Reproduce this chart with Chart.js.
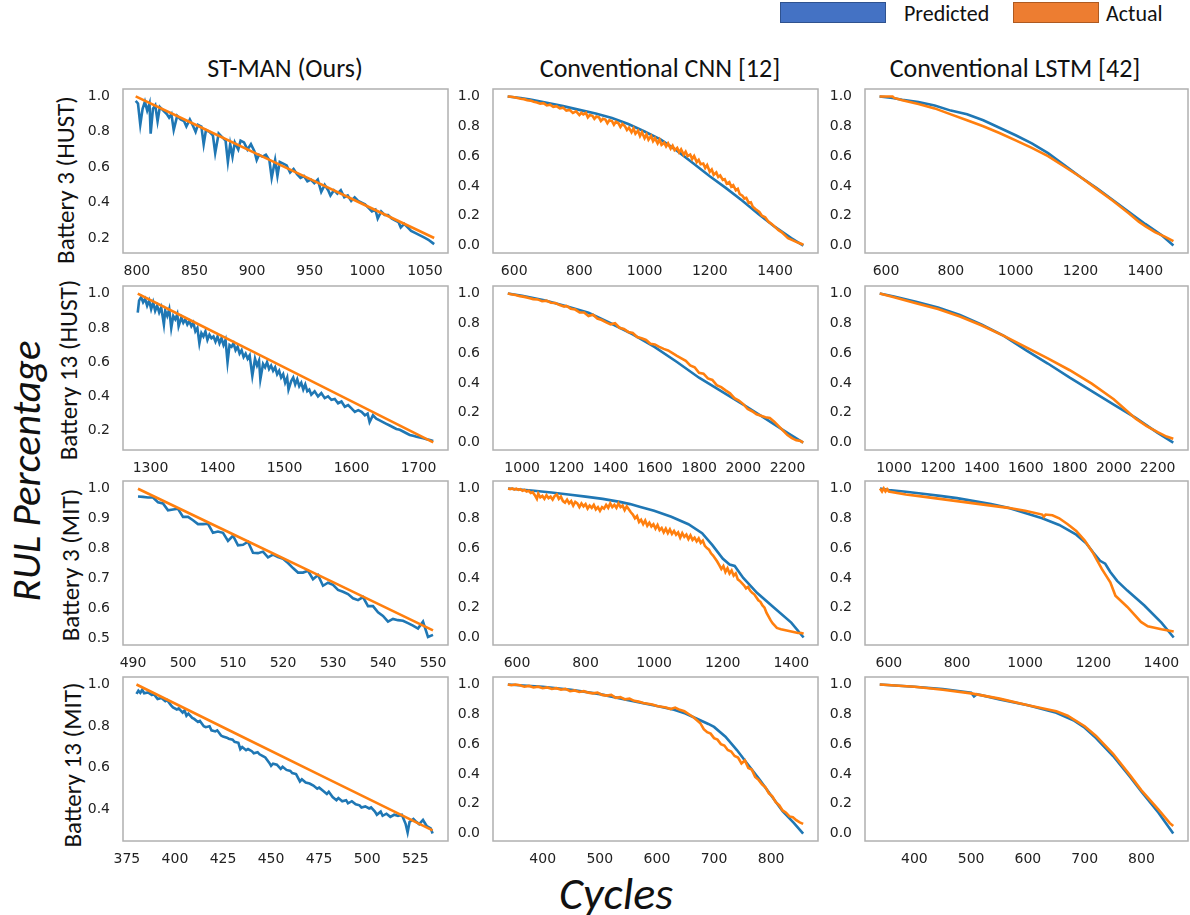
<!DOCTYPE html>
<html>
<head>
<meta charset="utf-8">
<script src="https://cdn.jsdelivr.net/npm/chart.js@4.4.0/dist/chart.umd.min.js"></script>
<style>
  body { margin: 0; background: #fff; }
  #lienzo { position: relative; width: 1190px; height: 915px; overflow: hidden; background: #fff; font-family: "Carlito", "Liberation Sans", sans-serif; color: #111; }
  .caja { position: absolute; }
  .texto { position: absolute; white-space: nowrap; }
  .titulo { font-size: 26px; transform: translate(-50%, -50%); }
  .fila { font-size: 25px; transform: translate(-50%, -50%) rotate(-90deg); }
  .grande { font-style: italic; transform: translate(-50%, -50%); }
  .muestra { position: absolute; height: 19px; }
</style>
</head>
<body>
<div id="lienzo">
  <div class="muestra" style="left:780px; top:2px; width:104px; background:#4472c4; border:1px solid #2f528f;"></div>
  <div class="texto" style="left:904px; top:0px; font-size:22px;">Predicted</div>
  <div class="muestra" style="left:1013px; top:2px; width:84px; background:#ed7d31; border:1px solid #ae5a21;"></div>
  <div class="texto" style="left:1106px; top:0px; font-size:22px;">Actual</div>

  <div class="texto titulo" style="left:285px; top:68px;">ST-MAN (Ours)</div>
  <div class="texto titulo" style="left:660px; top:68px;">Conventional CNN [12]</div>
  <div class="texto titulo" style="left:1015px; top:68px;">Conventional LSTM [42]</div>

  <div class="texto fila" style="left:65px; top:180px;">Battery 3 (HUST)</div>
  <div class="texto fila" style="left:68px; top:370px;">Battery 13 (HUST)</div>
  <div class="texto fila" style="left:70px; top:565px;">Battery 3 (MIT)</div>
  <div class="texto fila" style="left:72px; top:765px;">Battery 13 (MIT)</div>

  <div class="texto grande" style="left:26px; top:471px; font-size:41px; transform: translate(-50%, -50%) rotate(-90deg);">RUL Percentage</div>
  <div class="texto grande" style="left:616px; top:893px; font-size:46px;">Cycles</div>
</div>

<script>
// ---- datos: [ciclo, RUL] ----
// Battery 3 (HUST)
var st3hustPred = [[799,0.975],[801,0.96],[803,0.84],[805,0.93],[807,0.97],[809,0.92],[811,0.96],[812,0.79],[814,0.93],[816,0.95],[818,0.86],[820,0.94],[823,0.92],[826,0.9],[828,0.88],[830,0.9],[832,0.81],[835,0.89],[838,0.87],[841,0.86],[843,0.83],[846,0.87],[849,0.83],[851,0.8],[853,0.84],[856,0.83],[858,0.73],[860,0.81],[863,0.8],[866,0.78],[868,0.68],[871,0.79],[874,0.77],[877,0.75],[879,0.63],[881,0.73],[883,0.66],[885,0.74],[888,0.7],[890,0.75],[893,0.74],[896,0.7],[899,0.73],[902,0.69],[904,0.64],[906,0.67],[909,0.66],[912,0.67],[915,0.64],[917,0.54],[920,0.64],[922,0.55],[924,0.63],[927,0.62],[930,0.61],[933,0.57],[936,0.59],[939,0.56],[942,0.54],[945,0.55],[948,0.52],[951,0.53],[954,0.51],[957,0.53],[960,0.46],[963,0.5],[966,0.47],[968,0.44],[971,0.47],[974,0.45],[977,0.47],[980,0.43],[983,0.44],[986,0.41],[989,0.43],[992,0.41],[995,0.4],[998,0.39],[1001,0.37],[1004,0.35],[1007,0.36],[1009,0.31],[1012,0.35],[1015,0.33],[1018,0.33],[1021,0.31],[1024,0.3],[1027,0.29],[1029,0.26],[1032,0.28],[1035,0.26],[1038,0.24],[1041,0.23],[1044,0.22],[1047,0.21],[1050,0.2],[1053,0.19],[1056,0.175],[1058,0.165]];
var st3hustReal = [[799,1.0],[850,0.843],[900,0.688],[950,0.534],[1000,0.379],[1058,0.2]];

var cnn3hustPred = [[580,1.0],[620,0.99],[650,0.98],[700,0.958],[750,0.935],[800,0.91],[850,0.885],[900,0.855],[950,0.815],[1000,0.765],[1050,0.71],[1100,0.635],[1150,0.55],[1200,0.465],[1250,0.385],[1300,0.3],[1350,0.21],[1400,0.125],[1450,0.05],[1487,0.0]];
var cnn3hustReal = [[580,1.0],[590,0.998],[600,0.995],[610,0.99],[620,0.985],[630,0.982],[640,0.975],[650,0.972],[660,0.965],[670,0.96],[680,0.952],[690,0.955],[700,0.94],[710,0.945],[720,0.93],[730,0.935],[740,0.92],[750,0.925],[760,0.905],[770,0.91],[780,0.89],[790,0.9],[800,0.875],[806,0.89],[812,0.88],[820,0.89],[826,0.86],[832,0.875],[840,0.87],[846,0.85],[852,0.865],[860,0.86],[866,0.835],[872,0.85],[880,0.845],[886,0.82],[892,0.84],[900,0.835],[906,0.81],[912,0.83],[920,0.82],[926,0.795],[932,0.815],[940,0.8],[946,0.775],[952,0.79],[960,0.76],[966,0.785],[972,0.75],[980,0.77],[986,0.735],[992,0.76],[1000,0.72],[1006,0.745],[1012,0.71],[1020,0.735],[1026,0.7],[1032,0.72],[1040,0.685],[1046,0.71],[1052,0.675],[1060,0.69],[1066,0.665],[1072,0.685],[1080,0.65],[1086,0.67],[1092,0.64],[1100,0.655],[1106,0.625],[1112,0.645],[1120,0.61],[1126,0.63],[1132,0.6],[1140,0.61],[1146,0.58],[1152,0.6],[1160,0.56],[1166,0.575],[1172,0.545],[1180,0.55],[1186,0.52],[1192,0.54],[1200,0.495],[1206,0.51],[1212,0.475],[1220,0.49],[1226,0.46],[1232,0.47],[1240,0.44],[1246,0.445],[1252,0.415],[1260,0.425],[1266,0.395],[1272,0.405],[1280,0.37],[1286,0.38],[1292,0.345],[1300,0.335],[1306,0.315],[1312,0.32],[1320,0.285],[1326,0.29],[1332,0.26],[1340,0.245],[1346,0.235],[1352,0.225],[1360,0.2],[1370,0.19],[1380,0.16],[1390,0.145],[1400,0.125],[1410,0.105],[1420,0.09],[1430,0.07],[1440,0.05],[1450,0.04],[1460,0.03],[1470,0.02],[1480,0.012],[1487,0.005]];

var lstm3hustPred = [[580,1.0],[620,0.99],[650,0.978],[700,0.962],[750,0.94],[800,0.905],[850,0.88],[900,0.84],[950,0.79],[1000,0.74],[1050,0.685],[1100,0.62],[1150,0.54],[1200,0.46],[1250,0.385],[1300,0.305],[1350,0.225],[1400,0.145],[1450,0.07],[1487,0.0]];
var lstm3hustReal = [[580,1.0],[620,1.0],[625,0.99],[650,0.975],[700,0.95],[750,0.92],[800,0.88],[850,0.84],[900,0.8],[950,0.755],[1000,0.705],[1050,0.655],[1100,0.6],[1150,0.53],[1200,0.46],[1250,0.38],[1300,0.3],[1350,0.215],[1380,0.16],[1400,0.13],[1430,0.09],[1460,0.06],[1487,0.03]];

// Battery 13 (HUST)
var st13hustPred = [[1281,0.89],[1283,0.96],[1286,0.98],[1289,0.95],[1292,0.97],[1295,0.93],[1298,0.96],[1301,0.91],[1304,0.95],[1307,0.9],[1310,0.93],[1313,0.89],[1316,0.92],[1320,0.82],[1322,0.9],[1325,0.87],[1328,0.91],[1331,0.8],[1334,0.87],[1337,0.85],[1340,0.88],[1342,0.81],[1346,0.86],[1349,0.83],[1352,0.85],[1355,0.82],[1358,0.84],[1361,0.81],[1364,0.83],[1367,0.78],[1370,0.8],[1373,0.71],[1376,0.77],[1379,0.75],[1382,0.78],[1385,0.73],[1388,0.76],[1391,0.74],[1394,0.75],[1397,0.72],[1400,0.75],[1403,0.71],[1406,0.74],[1409,0.7],[1412,0.73],[1415,0.6],[1418,0.7],[1421,0.69],[1424,0.71],[1427,0.67],[1430,0.69],[1433,0.65],[1436,0.67],[1439,0.63],[1442,0.65],[1445,0.62],[1448,0.64],[1452,0.52],[1456,0.62],[1459,0.58],[1462,0.61],[1464,0.5],[1468,0.59],[1471,0.57],[1474,0.6],[1477,0.56],[1480,0.58],[1483,0.55],[1486,0.57],[1489,0.53],[1492,0.55],[1495,0.51],[1498,0.53],[1501,0.48],[1504,0.51],[1506,0.44],[1510,0.49],[1513,0.51],[1516,0.47],[1519,0.5],[1522,0.46],[1525,0.48],[1528,0.44],[1531,0.47],[1534,0.43],[1537,0.44],[1540,0.41],[1545,0.43],[1550,0.4],[1555,0.42],[1560,0.39],[1565,0.4],[1570,0.38],[1575,0.385],[1580,0.36],[1585,0.37],[1590,0.34],[1595,0.35],[1600,0.33],[1605,0.31],[1610,0.32],[1615,0.31],[1620,0.29],[1624,0.3],[1627,0.25],[1632,0.29],[1637,0.27],[1642,0.26],[1647,0.25],[1652,0.24],[1657,0.23],[1662,0.22],[1667,0.21],[1672,0.205],[1677,0.195],[1682,0.185],[1687,0.175],[1692,0.17],[1697,0.165],[1702,0.16],[1707,0.155],[1712,0.15],[1717,0.145],[1722,0.14]];
var st13hustReal = [[1281,1.0],[1350,0.864],[1450,0.667],[1550,0.47],[1650,0.273],[1722,0.132]];

var cnn13hustPred = [[935,1.0],[1000,0.985],[1100,0.955],[1200,0.915],[1300,0.87],[1400,0.8],[1500,0.725],[1600,0.64],[1700,0.54],[1800,0.435],[1900,0.345],[2000,0.255],[2100,0.16],[2200,0.065],[2271,0.0]];
var cnn13hustReal = [[935,1.0],[950,0.995],[970,0.99],[990,0.982],[1010,0.977],[1030,0.97],[1050,0.962],[1070,0.96],[1090,0.948],[1110,0.952],[1130,0.938],[1150,0.936],[1170,0.922],[1190,0.912],[1200,0.917],[1220,0.898],[1240,0.892],[1260,0.872],[1280,0.872],[1300,0.848],[1320,0.857],[1340,0.832],[1360,0.822],[1380,0.806],[1400,0.793],[1420,0.8],[1440,0.77],[1460,0.762],[1480,0.742],[1500,0.735],[1520,0.708],[1540,0.7],[1560,0.688],[1580,0.662],[1600,0.658],[1620,0.642],[1640,0.628],[1660,0.618],[1680,0.6],[1700,0.582],[1720,0.565],[1740,0.548],[1760,0.518],[1780,0.505],[1800,0.468],[1820,0.462],[1840,0.43],[1860,0.42],[1880,0.385],[1900,0.372],[1920,0.35],[1940,0.33],[1960,0.298],[1980,0.282],[2000,0.258],[2020,0.225],[2040,0.21],[2060,0.19],[2080,0.18],[2100,0.17],[2120,0.165],[2140,0.14],[2160,0.11],[2180,0.08],[2200,0.05],[2220,0.03],[2240,0.015],[2260,0.01],[2271,0.0]];

var lstm13hustPred = [[935,1.0],[1000,0.98],[1100,0.945],[1200,0.905],[1300,0.855],[1400,0.79],[1500,0.715],[1600,0.62],[1700,0.53],[1800,0.435],[1900,0.345],[2000,0.255],[2100,0.165],[2200,0.065],[2271,0.0]];
var lstm13hustReal = [[935,1.0],[1000,0.975],[1100,0.935],[1200,0.895],[1300,0.845],[1400,0.785],[1500,0.715],[1600,0.64],[1700,0.565],[1800,0.485],[1900,0.395],[2000,0.29],[2050,0.225],[2100,0.16],[2150,0.11],[2200,0.07],[2240,0.04],[2271,0.025]];

// Battery 3 (MIT)
var st3mitPred = [[491,0.974],[492,0.973],[493,0.971],[494,0.971],[495,0.955],[496,0.951],[497,0.928],[498,0.931],[499,0.933],[500,0.906],[501,0.906],[502,0.895],[503,0.882],[504,0.882],[505,0.883],[506,0.853],[507,0.857],[508,0.853],[509,0.826],[510,0.843],[511,0.811],[512,0.813],[513,0.823],[514,0.786],[515,0.785],[516,0.79],[517,0.771],[518,0.78],[519,0.772],[520,0.766],[521,0.752],[522,0.735],[523,0.72],[524,0.72],[525,0.726],[526,0.698],[527,0.712],[528,0.676],[529,0.686],[530,0.679],[531,0.662],[532,0.656],[533,0.648],[534,0.634],[535,0.628],[536,0.638],[537,0.608],[538,0.608],[539,0.587],[540,0.575],[541,0.556],[542,0.565],[543,0.561],[544,0.559],[545,0.551],[546,0.543],[547,0.533],[548,0.556],[549,0.505],[550,0.512]];
var st3mitReal = [[491,1.0],[510,0.848],[530,0.688],[550,0.527]];

var cnn3mitPred = [[574,1.0],[600,0.995],[650,0.985],[700,0.973],[750,0.96],[800,0.945],[850,0.93],[900,0.91],[930,0.895],[960,0.875],[1000,0.85],[1050,0.81],[1100,0.76],[1140,0.7],[1170,0.62],[1200,0.53],[1220,0.49],[1235,0.48],[1260,0.4],[1300,0.3],[1350,0.2],[1400,0.1],[1436,0.0]];
var cnn3mitReal = [[574,1.0],[580,0.995],[586,1.0],[592,0.992],[598,0.998],[604,0.99],[610,0.995],[616,0.985],[622,0.99],[628,0.98],[634,0.985],[640,0.97],[646,0.975],[652,0.955],[658,0.93],[662,0.965],[668,0.94],[674,0.95],[680,0.93],[686,0.955],[692,0.935],[698,0.945],[704,0.925],[710,0.95],[716,0.96],[722,0.93],[728,0.945],[734,0.915],[740,0.905],[746,0.925],[752,0.9],[758,0.915],[764,0.885],[770,0.91],[776,0.9],[782,0.875],[788,0.9],[794,0.88],[800,0.895],[806,0.865],[812,0.885],[818,0.87],[824,0.89],[830,0.86],[836,0.875],[842,0.85],[848,0.875],[854,0.865],[860,0.89],[866,0.87],[872,0.9],[878,0.875],[884,0.89],[890,0.87],[896,0.9],[902,0.875],[908,0.885],[914,0.855],[920,0.88],[926,0.86],[932,0.84],[938,0.825],[944,0.8],[950,0.815],[956,0.775],[962,0.79],[968,0.76],[974,0.785],[980,0.75],[986,0.77],[992,0.745],[998,0.76],[1004,0.73],[1010,0.755],[1016,0.72],[1022,0.735],[1028,0.705],[1034,0.73],[1040,0.7],[1046,0.725],[1052,0.695],[1058,0.715],[1064,0.69],[1070,0.705],[1076,0.67],[1082,0.7],[1088,0.675],[1094,0.69],[1100,0.66],[1106,0.685],[1112,0.655],[1118,0.67],[1124,0.645],[1130,0.665],[1136,0.635],[1142,0.65],[1148,0.615],[1154,0.6],[1160,0.59],[1166,0.565],[1172,0.55],[1178,0.53],[1184,0.51],[1190,0.485],[1196,0.46],[1202,0.48],[1208,0.44],[1214,0.465],[1220,0.43],[1226,0.45],[1232,0.415],[1238,0.43],[1244,0.39],[1250,0.38],[1256,0.365],[1262,0.35],[1268,0.33],[1274,0.34],[1280,0.315],[1286,0.3],[1292,0.29],[1298,0.27],[1304,0.25],[1310,0.24],[1316,0.215],[1322,0.2],[1328,0.165],[1334,0.14],[1340,0.115],[1346,0.095],[1352,0.08],[1358,0.065],[1364,0.06],[1370,0.055],[1380,0.05],[1390,0.045],[1400,0.04],[1410,0.035],[1420,0.03],[1430,0.03],[1436,0.025]];

var lstm3mitPred = [[574,1.0],[600,0.99],[650,0.978],[700,0.965],[750,0.95],[800,0.935],[850,0.915],[900,0.895],[950,0.87],[1000,0.835],[1050,0.8],[1100,0.755],[1150,0.69],[1180,0.63],[1200,0.57],[1220,0.515],[1235,0.495],[1250,0.44],[1270,0.38],[1300,0.315],[1350,0.215],[1400,0.1],[1436,0.0]];
var lstm3mitReal = [[574,1.0],[580,0.98],[585,1.0],[590,0.98],[595,0.995],[600,0.98],[650,0.96],[700,0.945],[750,0.93],[800,0.915],[850,0.9],[900,0.885],[950,0.87],[1000,0.85],[1050,0.825],[1055,0.81],[1060,0.825],[1080,0.82],[1100,0.8],[1125,0.76],[1150,0.715],[1175,0.65],[1200,0.565],[1225,0.46],[1250,0.37],[1265,0.28],[1300,0.205],[1340,0.105],[1360,0.075],[1400,0.055],[1436,0.04]];

// Battery 13 (MIT)
var st13mitPred = [[380,0.955],[381,0.97],[382,0.96],[383,0.975],[384,0.958],[386,0.962],[388,0.95],[389,0.955],[391,0.93],[393,0.935],[395,0.92],[396,0.925],[398,0.9],[399,0.89],[401,0.88],[402,0.885],[404,0.865],[405,0.875],[406,0.85],[407,0.86],[409,0.84],[410,0.835],[412,0.82],[413,0.825],[415,0.8],[416,0.795],[418,0.8],[419,0.78],[421,0.775],[422,0.78],[424,0.755],[425,0.75],[427,0.745],[428,0.74],[430,0.735],[431,0.725],[433,0.72],[434,0.69],[435,0.7],[437,0.685],[438,0.69],[440,0.68],[441,0.67],[443,0.675],[444,0.665],[446,0.655],[447,0.65],[449,0.625],[450,0.61],[451,0.62],[453,0.615],[455,0.595],[456,0.605],[458,0.59],[460,0.585],[461,0.575],[463,0.57],[465,0.535],[466,0.545],[468,0.53],[470,0.525],[472,0.515],[474,0.5],[475,0.505],[477,0.49],[479,0.475],[480,0.485],[482,0.46],[484,0.445],[485,0.455],[487,0.44],[489,0.445],[490,0.43],[492,0.44],[494,0.425],[496,0.42],[497,0.41],[499,0.415],[501,0.405],[502,0.41],[504,0.39],[505,0.375],[507,0.39],[508,0.37],[510,0.38],[512,0.365],[514,0.375],[516,0.37],[518,0.375],[520,0.33],[521,0.29],[522,0.34],[524,0.355],[525,0.345],[527,0.33],[529,0.35],[531,0.32],[533,0.31],[534,0.285]];
var st13mitReal = [[380,1.0],[430,0.772],[480,0.545],[534,0.3]];

var cnn13mitPred = [[339,1.0],[400,0.985],[450,0.965],[500,0.935],[550,0.895],[600,0.855],[630,0.83],[650,0.805],[670,0.77],[690,0.735],[700,0.715],[720,0.65],[740,0.56],[760,0.46],[780,0.36],[800,0.255],[820,0.15],[840,0.07],[856,0.0]];
var cnn13mitReal = [[339,1.0],[345,0.995],[352,1.0],[360,0.995],[368,0.985],[376,0.99],[384,0.98],[392,0.985],[400,0.975],[408,0.98],[416,0.97],[424,0.975],[432,0.965],[440,0.97],[448,0.955],[456,0.96],[464,0.95],[472,0.955],[480,0.945],[488,0.94],[496,0.945],[504,0.93],[512,0.925],[520,0.93],[528,0.91],[536,0.915],[544,0.9],[552,0.905],[560,0.89],[568,0.885],[576,0.875],[584,0.87],[592,0.865],[600,0.855],[608,0.85],[616,0.845],[624,0.835],[632,0.845],[640,0.83],[648,0.82],[656,0.8],[664,0.78],[670,0.76],[676,0.74],[682,0.7],[688,0.68],[694,0.67],[700,0.64],[706,0.63],[712,0.6],[718,0.59],[724,0.56],[730,0.55],[736,0.52],[742,0.51],[748,0.47],[754,0.49],[760,0.44],[766,0.43],[772,0.38],[778,0.36],[784,0.33],[790,0.31],[796,0.27],[802,0.25],[808,0.21],[814,0.19],[820,0.155],[826,0.14],[832,0.115],[838,0.11],[844,0.09],[850,0.075],[856,0.065]];

var lstm13mitPred = [[339,1.0],[400,0.985],[450,0.97],[500,0.945],[505,0.92],[510,0.935],[550,0.9],[600,0.86],[650,0.81],[680,0.76],[700,0.71],[720,0.64],[750,0.52],[780,0.38],[800,0.28],[830,0.14],[856,0.0]];
var lstm13mitReal = [[339,1.0],[400,0.985],[450,0.965],[500,0.94],[550,0.905],[600,0.86],[650,0.82],[670,0.79],[700,0.72],[720,0.655],[750,0.535],[780,0.39],[800,0.29],[830,0.16],[850,0.07],[856,0.05]];

// marcas de los ejes
var xTicksSt3hust = [800, 850, 900, 950, 1000, 1050];
var xTicksHust3 = [600, 800, 1000, 1200, 1400];
var xTicksSt13hust = [1300, 1400, 1500, 1600, 1700];
var xTicksHust13 = [1000, 1200, 1400, 1600, 1800, 2000, 2200];
var xTicksSt3mit = [490, 500, 510, 520, 530, 540, 550];
var xTicksMit3 = [600, 800, 1000, 1200, 1400];
var xTicksSt13mit = [375, 400, 425, 450, 475, 500, 525];
var xTicksMit13 = [400, 500, 600, 700, 800];
var yTicksSt3hust = [0.2, 0.4, 0.6, 0.8, 1.0];
var yTicksCero = [0.0, 0.2, 0.4, 0.6, 0.8, 1.0];
var yTicksSt3mit = [0.5, 0.6, 0.7, 0.8, 0.9, 1.0];
var yTicksSt13mit = [0.4, 0.6, 0.8, 1.0];

// limites de cada panel: [xmin, xmax, ymin, ymax]
var limSt3hust = [788, 1070, 0.115, 1.042];
var limHust3 = [535, 1532, -0.05, 1.05];
var limSt13hust = [1259, 1744, 0.087, 1.045];
var limHust13 = [868, 2338, -0.05, 1.05];
var limSt3mit = [488, 553, 0.478, 1.026];
var limMit3 = [530, 1478, -0.05, 1.05];
var limSt13mit = [373, 542, 0.249, 1.036];
var limMit13 = [313, 882, -0.05, 1.05];

var colIzq = [123, 493, 865];
var filaSup = [89, 286, 481, 677];
var anchoGraf = [325, 325, 323];
var altoGraf = 164;

var marco = {
    id: 'marco',
    afterDraw: function(chart){
        var a = chart.chartArea;
        var ctx = chart.ctx;
        ctx.save();
        ctx.strokeStyle = '#b0b0b0';
        ctx.lineWidth = 1.5;
        ctx.strokeRect(a.left, a.top, a.right - a.left, a.bottom - a.top);
        ctx.restore();
    }
};

function aPuntos(arr){
    return arr.map(function(p){ return {x: p[0], y: p[1]}; });
}

function CrearGrafico(fila, col, pred, real, lim, xt, yt){
    var div = document.createElement('div');
    div.className = 'caja';
    div.style.left = (colIzq[col] - 50) + 'px';
    div.style.top = (filaSup[fila] - 6) + 'px';
    div.style.width = (50 + anchoGraf[col] + 3) + 'px';
    div.style.height = (6 + altoGraf + 26) + 'px';
    var cv = document.createElement('canvas');
    div.appendChild(cv);
    document.getElementById('lienzo').appendChild(div);

    var fuente = {family: "'DejaVu Sans', sans-serif", size: 14};
    new Chart(cv, {
        type: 'line',
        data: {
            datasets: [{
                label: 'Predicted',
                data: aPuntos(pred),
                borderColor: '#1f77b4',
                borderWidth: 2.6,
                pointRadius: 0,
                tension: 0,
                order: 2
            }, {
                label: 'Actual',
                data: aPuntos(real),
                borderColor: '#ff7f0e',
                borderWidth: 2.6,
                pointRadius: 0,
                tension: 0,
                order: 1
            }]
        },
        options: {
            responsive: true,
            maintainAspectRatio: false,
            animation: false,
            layout: { padding: {top: 6, right: 3, left: 0, bottom: 0} },
            plugins: { legend: {display: false}, tooltip: {enabled: false} },
            scales: {
                x: {
                    type: 'linear',
                    min: lim[0], max: lim[1],
                    grid: {display: false},
                    border: {display: false},
                    ticks: {
                        autoSkip: false, maxRotation: 0,
                        font: fuente, color: '#222', padding: 2,
                        callback: function(v){ return String(v); }
                    },
                    afterBuildTicks: function(s){
                        s.ticks = xt.map(function(v){ return {value: v}; });
                    },
                    afterFit: function(s){
                        s.height = 26;
                        s.paddingLeft = 0;
                        s.paddingRight = 0;
                    }
                },
                y: {
                    type: 'linear',
                    min: lim[2], max: lim[3],
                    grid: {display: false},
                    border: {display: false},
                    ticks: {
                        autoSkip: false,
                        font: fuente, color: '#222', padding: 5,
                        callback: function(v){ return v.toFixed(1); }
                    },
                    afterBuildTicks: function(s){
                        s.ticks = yt.map(function(v){ return {value: v}; });
                    },
                    afterFit: function(s){
                        s.width = 50;
                        s.paddingTop = 0;
                        s.paddingBottom = 0;
                    }
                }
            }
        },
        plugins: [marco]
    });
}

CrearGrafico(0, 0, st3hustPred, st3hustReal, limSt3hust, xTicksSt3hust, yTicksSt3hust);
CrearGrafico(0, 1, cnn3hustPred, cnn3hustReal, limHust3, xTicksHust3, yTicksCero);
CrearGrafico(0, 2, lstm3hustPred, lstm3hustReal, limHust3, xTicksHust3, yTicksCero);
CrearGrafico(1, 0, st13hustPred, st13hustReal, limSt13hust, xTicksSt13hust, yTicksSt3hust);
CrearGrafico(1, 1, cnn13hustPred, cnn13hustReal, limHust13, xTicksHust13, yTicksCero);
CrearGrafico(1, 2, lstm13hustPred, lstm13hustReal, limHust13, xTicksHust13, yTicksCero);
CrearGrafico(2, 0, st3mitPred, st3mitReal, limSt3mit, xTicksSt3mit, yTicksSt3mit);
CrearGrafico(2, 1, cnn3mitPred, cnn3mitReal, limMit3, xTicksMit3, yTicksCero);
CrearGrafico(2, 2, lstm3mitPred, lstm3mitReal, limMit3, xTicksMit3, yTicksCero);
CrearGrafico(3, 0, st13mitPred, st13mitReal, limSt13mit, xTicksSt13mit, yTicksSt13mit);
CrearGrafico(3, 1, cnn13mitPred, cnn13mitReal, limMit13, xTicksMit13, yTicksCero);
CrearGrafico(3, 2, lstm13mitPred, lstm13mitReal, limMit13, xTicksMit13, yTicksCero);
</script>
</body>
</html>
